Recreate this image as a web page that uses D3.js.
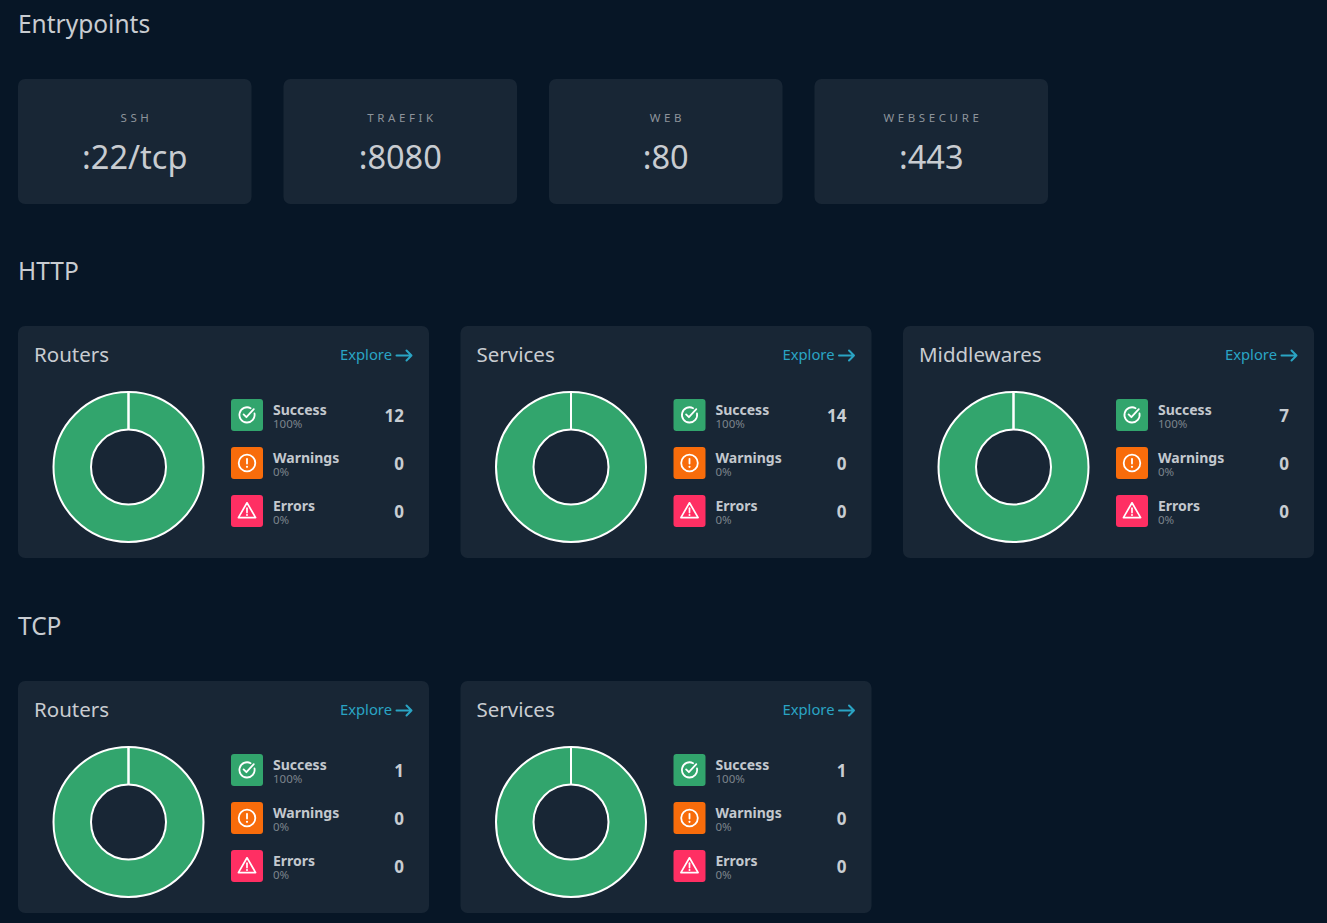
<!DOCTYPE html>
<html>
<head>
<meta charset="utf-8">
<script src="https://cdn.jsdelivr.net/npm/d3@7"></script>
<style>
  html, body { margin: 0; padding: 0; background: #071626; }
  svg { display: block; font-family: "Noto Sans", sans-serif; }
</style>
</head>
<body>
<div id="dash"></div>
<script>
// entrypoints
const entryNames = ["SSH", "TRAEFIK", "WEB", "WEBSECURE"];
const entryPorts = [":22/tcp", ":8080", ":80", ":443"];

// http section
const httpKinds = ["Routers", "Services", "Middlewares"];
const httpSuccess = [12, 14, 7];
const httpWarnings = [0, 0, 0];
const httpErrors = [0, 0, 0];

// tcp section
const tcpKinds = ["Routers", "Services"];
const tcpSuccess = [1, 1];
const tcpWarnings = [0, 0];
const tcpErrors = [0, 0];

const statusNames = ["Success", "Warnings", "Errors"];
const statusColors = ["#32a56d", "#f86c0b", "#ff2f63"];

const rawWidth = 1327, rawHeight = 923;
const svg = d3.select("#dash").append("svg")
    .attr("width", rawWidth)
    .attr("height", rawHeight);

const bg = "#071626", cardBg = "#182635";
const titleColor = "#c8ccd1";

svg.append("rect").attr("width", rawWidth).attr("height", rawHeight).attr("fill", bg);

function sectionTitle(text, y) {
    svg.append("text")
        .attr("x", 18).attr("y", y)
        .attr("font-size", 24.5)
        .attr("fill", titleColor)
        .text(text);
}

/// Entrypoints
sectionTitle("Entrypoints", 33);

const entryX = d3.scaleBand()
    .domain(entryNames)
    .range([18, 1048])
    .paddingInner(32 / 265.5)
    .paddingOuter(0);

const entry = svg.selectAll("g.entry")
    .data(entryNames)
    .join("g")
    .attr("class", "entry")
    .attr("transform", d => `translate(${entryX(d)},79)`);

entry.append("rect")
    .attr("width", entryX.bandwidth())
    .attr("height", 125)
    .attr("rx", 7)
    .attr("fill", cardBg);

entry.append("text")
    .attr("x", entryX.bandwidth() / 2 + 1.7)
    .attr("y", 43)
    .attr("text-anchor", "middle")
    .attr("font-size", 11.5)
    .attr("letter-spacing", 3.6)
    .attr("fill", "#8d949b")
    .text(d => d);

entry.append("text")
    .attr("x", entryX.bandwidth() / 2)
    .attr("y", 90)
    .attr("text-anchor", "middle")
    .attr("font-size", 32.5)
    .attr("fill", "#c8ccd1")
    .text((d, i) => entryPorts[i]);

/// status cards
const cardX = d3.scaleBand()
    .domain(d3.range(3))
    .range([18, 1314])
    .paddingInner(31.5 / 442.5)
    .paddingOuter(0);

const pie = d3.pie().sort(null).value(d => d);
const arc = d3.arc().innerRadius(37.5).outerRadius(75);

const icons = [
    // check circle
    g => {
        g.append("path")
            .attr("d", "M23.5,14.5 A7.6,7.6 0 1 1 19.6,9.2")
            .attr("fill", "none").attr("stroke", "#fff").attr("stroke-width", 1.8)
            .attr("stroke-linecap", "round");
        g.append("path")
            .attr("d", "M12.6,15.4 L15.4,18.2 L22.8,10.2")
            .attr("fill", "none").attr("stroke", "#fff").attr("stroke-width", 1.8)
            .attr("stroke-linecap", "round").attr("stroke-linejoin", "round");
    },
    // exclamation circle
    g => {
        g.append("circle").attr("cx", 16).attr("cy", 16).attr("r", 8.3)
            .attr("fill", "none").attr("stroke", "#fff").attr("stroke-width", 1.8);
        g.append("path").attr("d", "M16,11.8 L16,16.6")
            .attr("stroke", "#fff").attr("stroke-width", 1.8).attr("stroke-linecap", "round");
        g.append("circle").attr("cx", 16).attr("cy", 19.8).attr("r", 1.1).attr("fill", "#fff");
    },
    // warning triangle
    g => {
        g.append("path")
            .attr("d", "M16,7.8 L24.6,22.6 L7.4,22.6 Z")
            .attr("fill", "none").attr("stroke", "#fff").attr("stroke-width", 1.7)
            .attr("stroke-linejoin", "round");
        g.append("path").attr("d", "M16,13.2 L16,17.6")
            .attr("stroke", "#fff").attr("stroke-width", 1.7).attr("stroke-linecap", "round");
        g.append("circle").attr("cx", 16).attr("cy", 20.1).attr("r", 1).attr("fill", "#fff");
    }
];

function statusCards(top, kinds, success, warnings, errors) {
    const cards = svg.selectAll(null)
        .data(kinds.map((k, i) => ({ kind: k, values: [success[i], warnings[i], errors[i]] })))
        .join("g")
        .attr("transform", (d, i) => `translate(${cardX(i)},${top})`);

    const w = cardX.bandwidth();

    cards.append("rect")
        .attr("width", w)
        .attr("height", 232)
        .attr("rx", 7)
        .attr("fill", cardBg);

    cards.append("text")
        .attr("x", 16).attr("y", 36)
        .attr("font-size", 20.5)
        .attr("fill", titleColor)
        .text(d => d.kind);

    // explore link
    const explore = cards.append("g").attr("transform", `translate(${w - 16},0)`);
    explore.append("text")
        .attr("x", -21).attr("y", 34)
        .attr("text-anchor", "end")
        .attr("font-size", 14.8)
        .attr("fill", "#2aa4c4")
        .text("Explore");
    explore.append("path")
        .attr("d", "M-16.5,29.5 L-1.5,29.5 M-6.5,24.5 L-1.5,29.5 L-6.5,34.5")
        .attr("fill", "none")
        .attr("stroke", "#2aa4c4")
        .attr("stroke-width", 2)
        .attr("stroke-linecap", "round")
        .attr("stroke-linejoin", "round");

    // donut
    const donut = cards.append("g").attr("transform", "translate(110.5,141)");
    donut.selectAll("path")
        .data(d => pie(d.values))
        .join("path")
        .attr("d", arc)
        .attr("fill", (d, i) => statusColors[i])
        .attr("stroke", "#fff")
        .attr("stroke-width", 2);

    // legend rows
    const rows = cards.selectAll("g.row")
        .data(d => {
            const total = d3.sum(d.values);
            return d.values.map((v, i) => ({ v, i, pct: total ? Math.round(v / total * 100) : 0 }));
        })
        .join("g")
        .attr("class", "row")
        .attr("transform", d => `translate(213,${73 + d.i * 48})`);

    rows.append("rect")
        .attr("width", 32).attr("height", 32).attr("rx", 3)
        .attr("fill", d => statusColors[d.i]);
    rows.each(function (d) { icons[d.i](d3.select(this)); });

    rows.append("text")
        .attr("x", 42).attr("y", 15.5)
        .attr("font-size", 14)
        .attr("font-weight", 700)
        .attr("fill", "#c3c8ce")
        .text(d => statusNames[d.i]);

    rows.append("text")
        .attr("x", 42).attr("y", 28.5)
        .attr("font-size", 11.5)
        .attr("fill", "#7c848c")
        .text(d => d.pct + "%");

    rows.append("text")
        .attr("x", w - 213 - 25).attr("y", 23)
        .attr("text-anchor", "end")
        .attr("font-size", 17)
        .attr("font-weight", 700)
        .attr("fill", "#c8cdd2")
        .text(d => d.v);
}

/// HTTP
sectionTitle("HTTP", 280);
statusCards(326, httpKinds, httpSuccess, httpWarnings, httpErrors);

/// TCP
sectionTitle("TCP", 635);
statusCards(681, tcpKinds, tcpSuccess, tcpWarnings, tcpErrors);
</script>
</body>
</html>
